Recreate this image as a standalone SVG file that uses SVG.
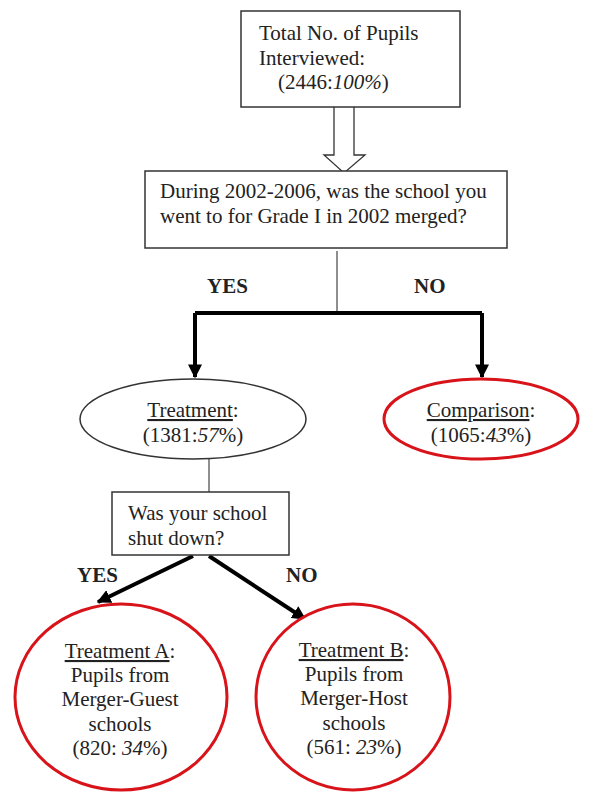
<svg xmlns="http://www.w3.org/2000/svg" width="593" height="795" viewBox="0 0 593 795">
<defs>
<style>
text{font-family:"Liberation Serif","Times New Roman",serif;font-size:21px;fill:#222}
.b{font-weight:bold}
.box{fill:#fff;stroke:#333;stroke-width:1.5}
.thin{stroke:#444;stroke-width:1.2;fill:none}
.thick{stroke:#000;stroke-width:4;fill:none}
.red{fill:#fff;stroke:#d8131a;stroke-width:3}
.u{text-decoration:underline}
</style>
<marker id="ah" viewBox="0 0 10 10" refX="9" refY="5" markerWidth="3.5" markerHeight="3.5" orient="auto" markerUnits="strokeWidth">
<path d="M0,0 L10,5 L0,10 z" fill="#000"/>
</marker>
</defs>
<g id="connectors">
<path d="M334,107 V155 H324 L344,173 L365,155 H354 V107" fill="#fff" stroke="#333" stroke-width="1.3"/>
<path class="thin" d="M337,251 V315"/>
<path class="thick" d="M195,313 H482"/>
<path class="thick" d="M195,313 V377" marker-end="url(#ah)"/>
<path class="thick" d="M482,313 V377" marker-end="url(#ah)"/>
<path class="thin" d="M209,459 V492"/>
<path class="thick" d="M193,556 L98,602" marker-end="url(#ah)"/>
<path class="thick" d="M209,556 L305,619" marker-end="url(#ah)"/>
<text class="b" x="207" y="293">YES</text>
<text class="b" x="414" y="293">NO</text>
<text class="b" x="77" y="582">YES</text>
<text class="b" x="286" y="582">NO</text>
</g>
<g id="total">
<rect class="box" x="241" y="11" width="219" height="96"/>
<text x="259" y="40">Total No. of Pupils</text>
<text x="259" y="65">Interviewed:</text>
<text x="278" y="89">(2446:<tspan font-style="italic">100%</tspan>)</text>
</g>
<g id="question1">
<rect class="box" x="145" y="171" width="362" height="77"/>
<text x="160" y="198">During 2002-2006, was the school you</text>
<text x="160" y="223">went to for Grade I in 2002 merged?</text>
</g>
<g id="treatment">
<ellipse cx="193" cy="419" rx="113" ry="40" fill="#fff" stroke="#333" stroke-width="1.5"/>
<text x="193" y="417" text-anchor="middle"><tspan class="u">Treatment</tspan>:</text>
<text x="193" y="442" text-anchor="middle">(1381:<tspan font-style="italic">57</tspan>%)</text>
</g>
<g id="comparison">
<ellipse class="red" cx="481" cy="419" rx="97" ry="40"/>
<text x="481" y="417" text-anchor="middle"><tspan class="u">Comparison</tspan>:</text>
<text x="481" y="442" text-anchor="middle">(1065:<tspan font-style="italic">43</tspan>%)</text>
</g>
<g id="question2">
<rect class="box" x="112" y="492" width="177" height="63"/>
<text x="128" y="520">Was your school</text>
<text x="128" y="545">shut down?</text>
</g>
<g id="treatmentA">
<ellipse class="red" cx="121" cy="697" rx="106" ry="93"/>
<text x="120" y="658" text-anchor="middle"><tspan class="u">Treatment A</tspan>:</text>
<text x="120" y="682" text-anchor="middle">Pupils from</text>
<text x="120" y="706" text-anchor="middle">Merger-Guest</text>
<text x="120" y="731" text-anchor="middle">schools</text>
<text x="120" y="755" text-anchor="middle">(820: <tspan font-style="italic">34</tspan>%)</text>
</g>
<g id="treatmentB">
<ellipse class="red" cx="353" cy="697" rx="97" ry="93"/>
<text x="354" y="657" text-anchor="middle"><tspan class="u">Treatment B</tspan>:</text>
<text x="354" y="681" text-anchor="middle">Pupils from</text>
<text x="354" y="705" text-anchor="middle">Merger-Host</text>
<text x="354" y="730" text-anchor="middle">schools</text>
<text x="354" y="754" text-anchor="middle">(561: <tspan font-style="italic">23</tspan>%)</text>
</g>
</svg>
